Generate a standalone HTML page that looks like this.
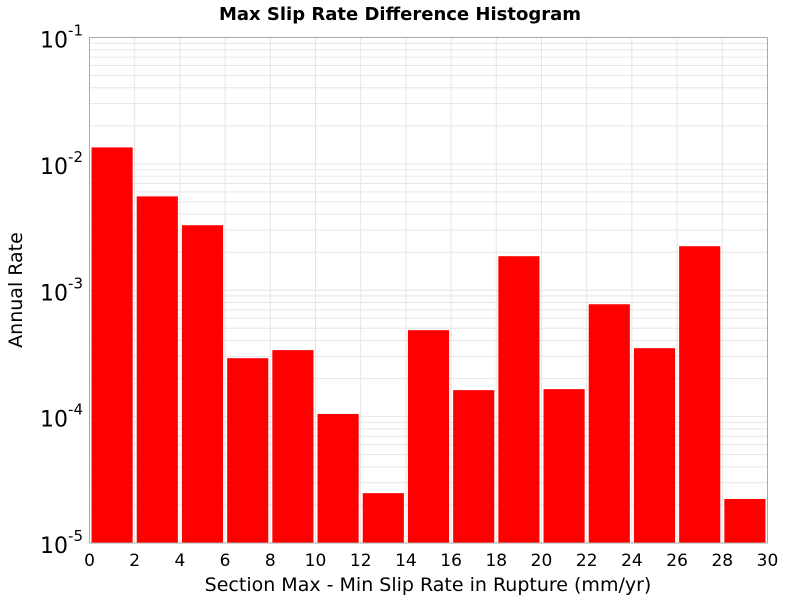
<!DOCTYPE html>
<html><head><meta charset="utf-8"><style>
body{margin:0;background:#fff;}
svg text{font-family:"DejaVu Sans","Liberation Sans",sans-serif;}
</style></head><body>
<svg id="chart" width="800" height="600" xmlns="http://www.w3.org/2000/svg">
<text x="400" y="20" text-anchor="middle" font-size="18" font-weight="bold">Max Slip Rate Difference Histogram</text>
<g id="grid"></g>
<g id="bars"></g>
<rect x="89.5" y="37.5" width="678" height="505.5" fill="none" stroke="#aaa" stroke-width="1"/>
<g id="ticks"></g>
<text x="428" y="591" text-anchor="middle" font-size="19">Section Max - Min Slip Rate in Rupture (mm/yr)</text>
<text transform="translate(22,290) rotate(-90)" text-anchor="middle" font-size="19">Annual Rate</text>
</svg>
<script>
const binCenters=[1,3,5,7,9,11,13,15,17,19,21,23,25,27,29];
const rates=[0.0135,0.00553,0.00327,2.9e-4,3.36e-4,1.05e-4,2.48e-5,4.83e-4,1.62e-4,1.86e-3,1.65e-4,7.75e-4,3.48e-4,2.23e-3,2.23e-5];
const xTicks=[0,2,4,6,8,10,12,14,16,18,20,22,24,26,28,30];
const yDecades=[-5,-4,-3,-2,-1];
const L=89.5,R=767.5,T=37.5,B=543;
const xMin=0,xMax=30,yMin=-5,yMax=-1;
const NS="http://www.w3.org/2000/svg";
function sx(v){return L+(v-xMin)/(xMax-xMin)*(R-L);}
function sy(v){return B-(Math.log10(v)-yMin)/(yMax-yMin)*(B-T);}
function mk(tag,attrs,parent){const e=document.createElementNS(NS,tag);for(const k in attrs)e.setAttribute(k,attrs[k]);parent.appendChild(e);return e;}
const grid=document.getElementById('grid'),bars=document.getElementById('bars'),ticks=document.getElementById('ticks');
for(const d of yDecades){
  for(let m=1;m<=9;m++){
    const v=m*Math.pow(10,d); if(Math.log10(v)>yMax+1e-9)break;
    const y=sy(v);
    const ln=mk('line',{x1:L,x2:R,y1:y,y2:y,stroke:'#e6e6e6','stroke-width':1},grid);
    
    
  }
  const t=mk('text',{x:83,y:sy(Math.pow(10,d))+10,'text-anchor':'end','font-size':22},ticks);
  
  
  t.textContent='10';
  const sp=mk('tspan',{dy:-12,'font-size':15},t);
  sp.textContent=String(d);
}
for(const xv of xTicks){
  const x=sx(xv);
  const ln=mk('line',{x1:x,x2:x,y1:T,y2:B,stroke:'#e6e6e6','stroke-width':1},grid);
  
  
  const t=mk('text',{x:x,y:566,'text-anchor':'middle','font-size':17},ticks);
  
  
  t.textContent=String(xv);
}
binCenters.forEach((c,i)=>{
  const x0=sx(c-0.91),x1=sx(c+0.91),y=sy(rates[i]);
  const r=mk('rect',{x:x0,y:y,width:x1-x0,height:B-y,fill:'#ff0000'},bars);
  
  
});
</script>
</body></html>
